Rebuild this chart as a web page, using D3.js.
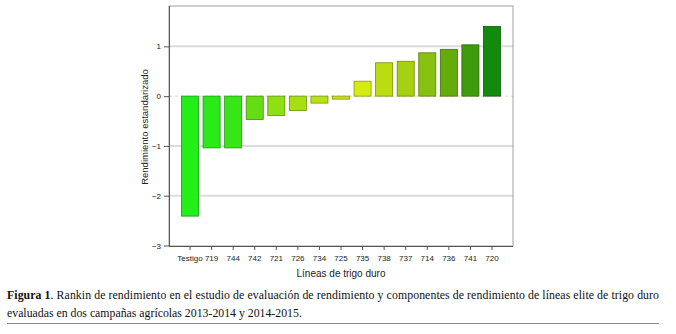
<!DOCTYPE html>
<html><head><meta charset="utf-8">
<script src="https://cdn.jsdelivr.net/npm/d3@7"></script>
<style>body{margin:0;background:#fff}svg{display:block}</style>
</head><body>
<svg id="c" width="676" height="334"></svg>
<script>
const categories = ["Testigo","719","744","742","721","726","734","725","735","738","737","714","736","741","720"];
const values = [-2.41,-1.04,-1.04,-0.47,-0.39,-0.29,-0.14,-0.06,0.30,0.67,0.70,0.87,0.94,1.03,1.40];
const barColors = ["#22ee18","#2aea18","#38e618","#66dc14","#8ee012","#a6e012","#bae210","#cce410","#d4ec12","#bcdc12","#a8d012","#88c010","#64ac0e","#3e9c0c","#128a0e"];
const yTicks = [-3,-2,-1,0,1];
const gridVals = [-2,-1,1];
const yLabel = "Rendimiento estandarizado";
const xLabel = "Líneas de trigo duro";
const caption1Bold = "Figura 1";
const caption1 = ". Rankin de rendimiento en el estudio de evaluación de rendimiento y componentes de rendimiento de líneas elite de trigo duro";
const caption2 = "evaluadas en dos campañas agrícolas 2013-2014 y 2014-2015.";

const svg = d3.select("#c");
const L=169,R=513,T=6,B=246;
const x = d3.scaleBand().domain(categories).range([L,R]).paddingInner(0.21).paddingOuter(0.58);
const y = d3.scaleLinear().domain([-3,1.8]).range([B-0.5,T+0.5]);

// grid
svg.append("g").selectAll("line").data(gridVals).join("line")
  .attr("x1",L).attr("x2",R).attr("y1",d=>y(d)).attr("y2",d=>y(d))
  .attr("stroke","#dcdcdc").attr("stroke-width",2);
svg.append("line").attr("x1",L).attr("x2",R).attr("y1",y(0)).attr("y2",y(0))
  .attr("stroke","#e8c8c8").attr("stroke-width",1).attr("stroke-dasharray","3,3");

// frame
svg.append("rect").attr("x",L).attr("y",T).attr("width",R-L).attr("height",B-T)
  .attr("fill","none").attr("stroke","#a0a0a0").attr("stroke-width",1);

// bars
svg.append("g").selectAll("rect").data(values).join("rect")
  .attr("x",(d,i)=>x(categories[i])).attr("width",x.bandwidth())
  .attr("y",d=>y(Math.max(0,d))).attr("height",d=>Math.abs(y(d)-y(0)))
  .attr("fill",(d,i)=>barColors[i])
  .attr("stroke",(d,i)=>d3.color(barColors[i]).darker(1.2)).attr("stroke-width",0.8);

// axes
const ya = svg.append("g").attr("transform",`translate(${L},0)`)
  .call(d3.axisLeft(y).tickValues(yTicks).tickSize(5).tickPadding(3).tickFormat(d3.format("d")));
const xa = svg.append("g").attr("transform",`translate(0,${B})`)
  .call(d3.axisBottom(x).tickSize(4).tickPadding(5));
[ya,xa].forEach(a=>{
  a.selectAll("text").attr("font-family","Liberation Sans, Arial, sans-serif").attr("font-size",8).attr("fill","#222");
  a.selectAll("line").attr("stroke","#555");
  a.select(".domain").attr("stroke","#555");
});
xa.select(".domain").attr("d",`M${L},0.5H${R}`);
ya.select(".domain").attr("d",`M0.5,${T}V${B}`);

svg.append("text").attr("transform",`translate(148,127) rotate(-90)`)
  .attr("text-anchor","middle").attr("font-family","Liberation Sans, Arial, sans-serif")
  .attr("font-size",9.5).attr("fill","#222").text(yLabel);
svg.append("text").attr("x",341).attr("y",277).attr("text-anchor","middle")
  .attr("font-family","Liberation Sans, Arial, sans-serif").attr("font-size",10).attr("fill","#222").text(xLabel);

// caption
const cap = svg.append("text").attr("x",7).attr("y",299).attr("font-family","Liberation Serif, Times New Roman, serif")
  .attr("font-size",11.8).attr("fill","#111").attr("textLength",652).attr("lengthAdjust","spacing");
cap.append("tspan").attr("font-weight","bold").text(caption1Bold);
cap.append("tspan").text(caption1);
svg.append("text").attr("x",7).attr("y",317).attr("font-family","Liberation Serif, Times New Roman, serif")
  .attr("font-size",11.8).attr("fill","#111").text(caption2);
svg.append("line").attr("x1",7).attr("x2",659).attr("y1",323.5).attr("y2",323.5).attr("stroke","#888").attr("stroke-width",1);
</script>
</body></html>
